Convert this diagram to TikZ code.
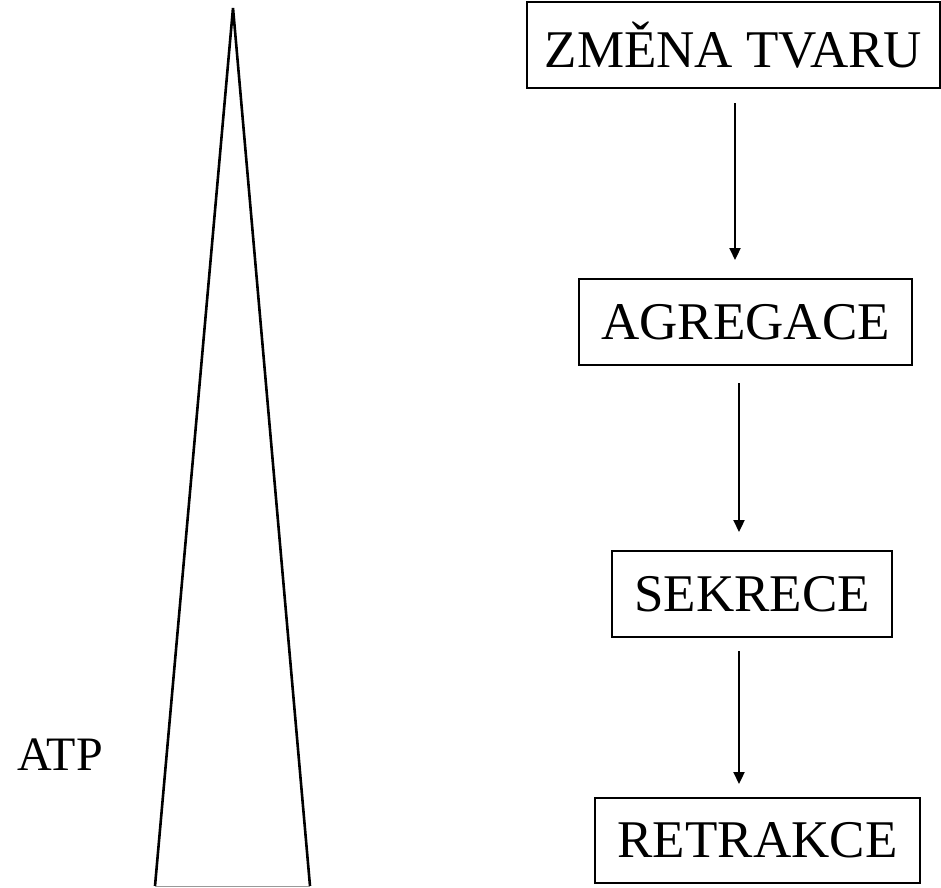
\documentclass[tikz,border=0pt]{standalone}
\usepackage{fontspec}
\setmainfont{Liberation Serif}
\usetikzlibrary{arrows.meta}
\begin{document}
\begin{tikzpicture}[x=1pt,y=-1pt,
  stagebox/.style={draw,line width=2.4pt,inner sep=0pt,font=\fontsize{53}{60}\selectfont},
  flow/.style={line width=2.2pt,-{Triangle[length=12pt,width=11pt]}},
  edge/.style={line width=2.6pt,line join=miter}]
\useasboundingbox (0,0) rectangle (941,887);
% triangle
\coordinate (apex) at (233,8);
\coordinate (bl) at (155,886);
\coordinate (br) at (310,886);
\draw[edge] (bl) -- (apex) -- (br);
\draw[line width=1pt,black!40] (bl) -- (br);
\node[font=\fontsize{48}{54}\selectfont] (atp) at (60,755) {ATP};
% boxes
\node[stagebox,minimum width=413pt,minimum height=86pt] (b1) at (733.5,45) {ZMĚNA TVARU};
\node[stagebox,minimum width=333pt,minimum height=86pt] (b2) at (745.5,322) {AGREGACE};
\node[stagebox,minimum width=280pt,minimum height=86pt] (b3) at (752,594) {SEKRECE};
\node[stagebox,minimum width=325pt,minimum height=85pt] (b4) at (757.5,840.5) {RETRAKCE};
% arrows
\coordinate (a1s) at (735,103);
\coordinate (a1e) at (735,260);
\coordinate (a2s) at (739,383);
\coordinate (a2e) at (739,532);
\coordinate (a3s) at (739,651);
\coordinate (a3e) at (739,784);
\draw[flow] (a1s) -- (a1e);
\draw[flow] (a2s) -- (a2e);
\draw[flow] (a3s) -- (a3e);
\end{tikzpicture}
\end{document}
